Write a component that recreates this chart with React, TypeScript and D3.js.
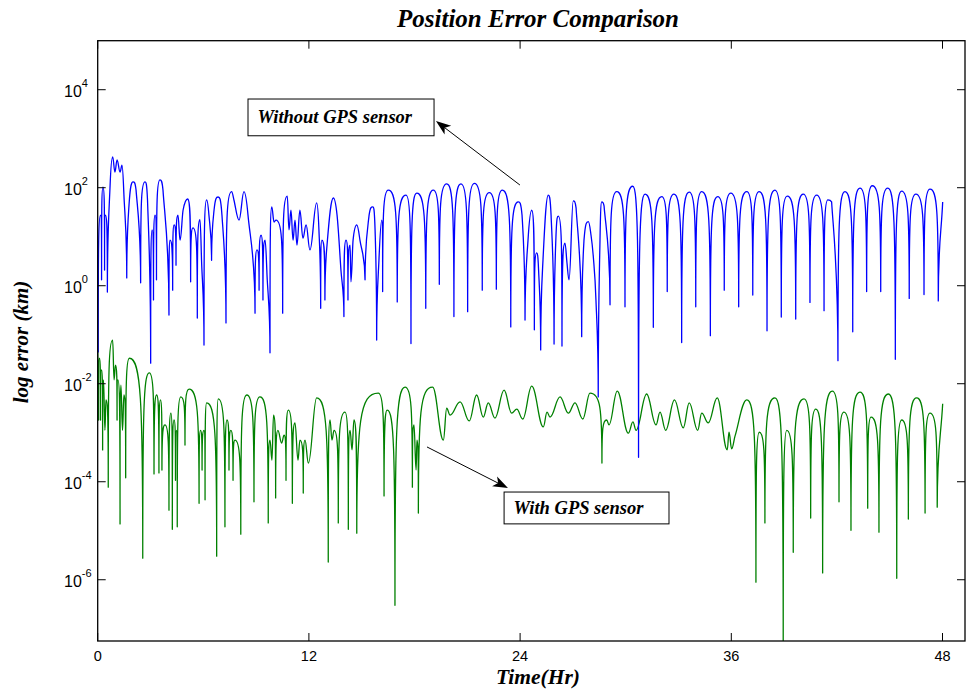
import React from "react";
import * as d3 from "d3";

const WIDTH = 967;
const HEIGHT = 689;

const TITLE = "Position Error Comparison";
const X_LABEL = "Time(Hr)";
const Y_LABEL = "log error (km)";

const TIME_TICKS = [0, 12, 24, 36, 48];
const LOG_TICKS = [-6, -4, -2, 0, 2, 4];

// [time (hr), log10 error (km)]
const withoutGps: [number, number][] = [
  [0, 0.63], [0.03, -1.35], [0.16, 1.44], [0.22, 0.12], [0.3, 2.01], [0.39, 0.32], [0.44, 1.44], [0.55, -0.13], [0.7, 2.01], [0.85, 2.63],
  [0.98, 2.32], [1.1, 2.57], [1.27, 2.32], [1.38, 2.46], [1.49, 1.85], [1.65, 0.16], [1.78, 1.65], [2.01, 2.12], [2.18, 1.95], [2.44, 0.06],
  [2.69, 2.12], [2.83, 1.75], [3.01, -1.58], [3.09, 1.14], [3.17, -0.29], [3.26, 1.44], [3.34, 0.12], [3.54, 2.16], [3.71, 1.95], [4.05, -0.6],
  [4.11, 0.93], [4.26, -0.09], [4.34, 1.24], [4.45, 0.42], [4.56, 1.44], [4.68, 0.93], [4.85, 1.54], [5.11, 1.77], [5.28, 0.08], [5.41, 1.18],
  [5.66, -0.66], [5.81, 1.35], [5.9, 0.52], [6.04, -1.21], [6.19, 1.75], [6.32, 1.44], [6.47, 0.52], [6.61, 1.54], [6.84, 1.81], [7.06, 1.44],
  [7.29, -0.76], [7.61, 1.92], [7.74, 1.75], [8.03, 1.34], [8.31, 1.92], [8.54, 1.44], [8.94, -0.56], [9.05, 0.73], [9.17, -0.09], [9.28, 1.03],
  [9.39, -0.29], [9.51, 0.93], [9.62, 0.22], [9.79, -1.37], [9.89, 1.61], [10.02, 1.3], [10.13, 1.34], [10.51, -0.56], [10.77, 1.83], [10.87, 1.14],
  [10.98, 1.54], [11.1, 0.93], [11.21, 1.34], [11.32, 0.83], [11.49, 1.54], [11.66, 0.97], [11.84, 1.24], [12.06, 0.73], [12.44, 1.69], [12.57, 1.14],
  [12.67, -0.46], [12.74, 0.93], [12.91, -0.29], [13.03, 0.83], [13.39, 1.79], [13.6, 1.44], [13.82, 0.32], [13.99, -0.63], [14.11, 0.93], [14.22, -0.29],
  [14.34, 0.83], [14.39, 0.08], [14.51, 0.93], [14.72, 1.24], [14.9, 0.93], [15.19, 0.12], [15.42, 1.44], [15.63, 1.61], [15.76, 1.14], [15.85, -1.11],
  [15.98, 0.52], [16.14, 1.34], [16.19, -0.12], [16.51, 1.95], [17.02, -0.33], [17.52, 1.85], [17.8, -1.18], [18.13, 1.89], [18.64, -0.46], [19.07, 1.95],
  [19.41, 0.03], [19.83, 2.08], [20.24, -0.63], [20.64, 2.08], [21.02, -0.53], [21.4, 2.09], [21.85, -0.09], [22.25, 1.9], [22.65, -0.07], [22.99, 1.95],
  [23.47, -0.84], [23.9, 1.71], [24.11, 1.44], [24.28, -0.7], [24.45, 0.93], [24.66, 1.54], [24.81, -0.9], [24.94, 0.67], [25.05, 0.32], [25.17, -1.31],
  [25.3, 0.52], [25.6, 1.85], [25.76, 1.44], [25.93, -1.19], [26.04, 1.03], [26.17, 1.42], [26.38, -1.23], [26.55, 0.87], [26.66, 0.48], [26.78, 0.12],
  [27.02, 1.73], [27.18, 1.59], [27.5, -1.04], [27.63, 0.93], [27.88, 1.31], [28.03, 1.03], [28.16, 0.59], [28.31, -0.29], [28.44, -2.27], [28.54, 0.93],
  [28.64, 1.71], [28.77, 1.63], [29.11, -0.39], [29.49, 1.92], [29.96, -0.43], [30.4, 2.03], [30.73, -3.5], [31.1, 1.87], [31.57, -0.85], [32.05, 1.82],
  [32.36, -0.12], [32.74, 1.87], [33.18, -1.16], [33.61, 1.91], [33.98, -0.43], [34.32, 1.92], [34.81, -1.02], [35.23, 1.82], [35.6, -0.09], [35.97, 1.89],
  [36.42, -0.43], [36.88, 1.92], [37.22, -0.19], [37.59, 1.92], [38.03, -0.92], [38.48, 1.95], [38.84, -0.64], [39.18, 1.83], [39.66, -0.68], [40.09, 1.87],
  [40.47, -0.34], [40.85, 1.85], [41.27, -0.51], [41.49, 1.75], [41.7, 1.71], [42.06, -1.53], [42.46, 1.92], [42.9, -0.94], [43.31, 1.99], [43.69, -0.12],
  [44.01, 2.04], [44.49, -0.12], [44.89, 1.99], [45.32, -1.5], [45.68, 1.93], [46.11, -0.26], [46.49, 1.87], [46.95, -0.18], [47.29, 1.97], [47.76, -0.31],
  [48.01, 1.71],
];

const withGps: [number, number][] = [
  [0, -1.31], [0.05, -2.74], [0.1, -1.48], [0.16, -2.74], [0.22, -1.72], [0.28, -3.35], [0.33, -1.92], [0.41, -2.95], [0.47, -2.33], [0.6, -4.11],
  [0.85, -1.11], [0.93, -1.92], [1.01, -1.62], [1.1, -2.74], [1.15, -1.92], [1.27, -4.86], [1.32, -2.03], [1.41, -2.95], [1.49, -2.23], [1.59, -3.92],
  [1.8, -1.48], [2.56, -5.56], [2.93, -1.78], [3.2, -3.84], [3.35, -2.23], [3.48, -3.82], [3.57, -2.33], [3.65, -3.76], [3.82, -2.84], [4.05, -4.58],
  [4.16, -2.6], [4.24, -4.97], [4.34, -2.74], [4.42, -3.97], [4.48, -2.95], [4.52, -4.92], [4.72, -2.27], [4.96, -3.25], [5.19, -2.11], [5.76, -4.44],
  [5.84, -2.95], [5.93, -3.76], [6.04, -2.95], [6.1, -4.37], [6.19, -2.39], [6.76, -5.52], [6.85, -2.31], [7.23, -4.92], [7.35, -2.74], [7.46, -3.76],
  [7.57, -2.95], [7.69, -3.97], [7.8, -3.15], [8.13, -5.07], [8.47, -2.23], [8.88, -4.41], [9.22, -2.27], [9.69, -4.84], [9.79, -3.15], [9.9, -3.56],
  [9.99, -2.64], [10.11, -4.33], [10.24, -2.95], [10.45, -3.21], [10.59, -3.05], [10.7, -3.97], [10.83, -2.54], [11.06, -4.44], [11.21, -2.8], [11.38, -3.56],
  [11.49, -3.15], [11.68, -4.23], [11.78, -3.15], [11.97, -3.62], [12.44, -2.29], [13.1, -5.64], [13.2, -2.74], [13.31, -3.15], [13.43, -2.95], [13.67, -4.84],
  [14.05, -2.58], [14.24, -4.97], [14.34, -2.95], [14.45, -3.35], [14.56, -2.74], [14.72, -5.05], [15.94, -2.19], [16.27, -4.29], [16.45, -2.54], [16.89, -6.52],
  [17.46, -2.07], [17.88, -4.11], [17.97, -2.84], [18.09, -3.76], [18.14, -3.15], [18.22, -4.64], [19.03, -2.07], [19.64, -3.15], [19.83, -2.5], [20.02, -2.64],
  [20.59, -2.37], [21.11, -2.76], [21.53, -2.23], [21.91, -2.68], [22.19, -2.39], [22.57, -2.7], [23.09, -2.13], [23.52, -2.6], [23.81, -2.52], [24.15, -2.72],
  [24.66, -2.05], [25.32, -2.88], [25.53, -2.58], [25.7, -2.68], [26.27, -2.27], [26.74, -2.6], [27.12, -2.39], [27.56, -2.72], [27.97, -2.19], [28.65, -3.62],
  [28.92, -2.74], [29.05, -2.84], [29.52, -2.15], [30.15, -3.01], [30.41, -2.78], [30.59, -2.95], [31.19, -2.21], [31.72, -2.84], [31.95, -2.58], [32.27, -2.95],
  [32.77, -2.33], [33.27, -2.9], [33.61, -2.39], [34.09, -2.95], [34.32, -2.6], [34.69, -2.8], [35.2, -2.29], [35.77, -3.35], [35.87, -2.99], [36.02, -3.33],
  [36.21, -3.07], [36.88, -2.33], [37.4, -6.05], [37.59, -2.99], [37.91, -4.84], [38.48, -2.29], [38.95, -7.44], [39.15, -2.95], [39.52, -5.44], [40.13, -2.31],
  [40.51, -4.74], [40.8, -2.52], [41.19, -5.86], [41.74, -2.15], [42.12, -4.41], [42.4, -2.58], [42.8, -4.99], [43.31, -2.17], [43.75, -4.54], [43.94, -2.68],
  [44.39, -5.03], [44.92, -2.21], [45.4, -5.97], [45.68, -2.74], [46.06, -4.76], [46.53, -2.29], [47.01, -4.64], [47.29, -2.6], [47.7, -4.52], [48.01, -2.41],
];

// annotations: box [t0, t1, logTop, logBottom], arrow from -> to (time, log10)
const annotationTexts = ["Without GPS sensor", "With GPS sensor"];
const annotationBoxes = [
  [8.54, 19.11, 3.81, 3.06],
  [23.09, 32.46, -4.21, -4.86],
];
const annotationArrows = [
  [23.99, 2.055, 19.22, 3.36],
  [18.71, -3.29, 23.31, -4.13],
];

const FRAME = { left: 97.7, right: 965, top: 40.7, bottom: 641 };

const x = d3.scaleLinear().domain([0, 48]).range([97.7, 942.5]);
const y = d3.scaleLog().domain([Math.pow(10, -7.25), 1e5]).range([641, 40.7]);

type Kind = "max" | "cusp" | "round" | "mono";

function buildPath(series: [number, number][]): string {
  const pts = series.map(([t, e]) => ({ x: x(t), y: y(Math.pow(10, e)), e }));
  const n = pts.length;
  const kinds: Kind[] = pts.map((p, i) => {
    if (i === 0 || i === n - 1) return "mono";
    const a = pts[i - 1].e;
    const b = pts[i + 1].e;
    if (p.e > a && p.e > b) return "max";
    if (p.e < a && p.e < b) return Math.min(a - p.e, b - p.e) > 0.8 ? "cusp" : "round";
    return "mono";
  });
  const slope = (i: number) => {
    const a = pts[Math.max(0, i - 1)];
    const b = pts[Math.min(n - 1, i + 1)];
    return (b.y - a.y) / (b.x - a.x || 1);
  };
  const clamp = (v: number, a: number, b: number) => Math.max(Math.min(a, b), Math.min(Math.max(a, b), v));
  const p = d3.path();
  p.moveTo(pts[0].x, pts[0].y);
  for (let i = 0; i < n - 1; i++) {
    const a = pts[i];
    const b = pts[i + 1];
    const ka = kinds[i];
    const kb = kinds[i + 1];
    const dx = b.x - a.x;
    const dy = b.y - a.y;
    let c1x: number, c1y: number, c2x: number, c2y: number;
    if (ka === "max" || ka === "round") {
      const f = kb === "cusp" ? 0.85 : 0.4;
      c1x = a.x + f * dx;
      c1y = a.y;
    } else if (ka === "cusp") {
      const f = kb === "mono" ? 0.6 : 0.8;
      c1x = a.x;
      c1y = a.y + f * dy;
    } else {
      const m = slope(i);
      c1x = a.x + dx / 3;
      c1y = clamp(a.y + (m * dx) / 3, a.y, b.y);
    }
    if (kb === "max" || kb === "round") {
      const f = ka === "cusp" ? 0.85 : 0.4;
      c2x = b.x - f * dx;
      c2y = b.y;
    } else if (kb === "cusp") {
      const f = ka === "mono" ? 0.6 : 0.8;
      c2x = b.x;
      c2y = b.y - f * dy;
    } else {
      const m = slope(i + 1);
      c2x = b.x - dx / 3;
      c2y = clamp(b.y - (m * dx) / 3, a.y, b.y);
    }
    p.bezierCurveTo(c1x, c1y, c2x, c2y, b.x, b.y);
  }
  return p.toString();
}

const SANS = "'Liberation Sans', Arial, Helvetica, sans-serif";
const SERIF = "'Liberation Serif', 'Times New Roman', Times, serif";

function Arrow({ x1, y1, x2, y2 }: { x1: number; y1: number; x2: number; y2: number }) {
  const len = Math.hypot(x2 - x1, y2 - y1);
  const ux = (x2 - x1) / len;
  const uy = (y2 - y1) / len;
  const nx = -uy;
  const ny = ux;
  const L = 15;
  const Wd = 5.5;
  const notch = 4;
  const head = [
    [x2, y2],
    [x2 - ux * L + nx * Wd, y2 - uy * L + ny * Wd],
    [x2 - ux * (L - notch), y2 - uy * (L - notch)],
    [x2 - ux * L - nx * Wd, y2 - uy * L - ny * Wd],
  ];
  return (
    <g>
      <line x1={x1} y1={y1} x2={x2 - ux * (L - notch)} y2={y2 - uy * (L - notch)} stroke="#000" strokeWidth={1} />
      <polygon points={head.map((q) => q.join(",")).join(" ")} fill="#000" />
    </g>
  );
}

export default function App() {
  const bluePath = buildPath(withoutGps);
  const greenPath = buildPath(withGps);
  const tickLen = 8;
  return (
    <svg
      width={WIDTH}
      height={HEIGHT}
      style={{ position: "absolute", left: 0, top: 0, background: "#fff" }}
      xmlns="http://www.w3.org/2000/svg"
    >
      <rect x={0} y={0} width={WIDTH} height={HEIGHT} fill="#fff" />
      <defs>
        <clipPath id="plotClip">
          <rect x={FRAME.left} y={FRAME.top} width={FRAME.right - FRAME.left} height={FRAME.bottom - FRAME.top} />
        </clipPath>
      </defs>

      <g clipPath="url(#plotClip)" fill="none" strokeLinejoin="round">
        <path d={greenPath} stroke="#008000" strokeWidth={1.3} />
        <path d={bluePath} stroke="#0000ff" strokeWidth={1.3} />
      </g>

      {/* frame */}
      <rect
        x={FRAME.left}
        y={FRAME.top}
        width={FRAME.right - FRAME.left}
        height={FRAME.bottom - FRAME.top}
        fill="none"
        stroke="#000"
        strokeWidth={1.3}
      />

      {/* x ticks */}
      {TIME_TICKS.map((t) => (
        <g key={"xt" + t}>
          <line x1={x(t)} x2={x(t)} y1={FRAME.bottom} y2={FRAME.bottom - tickLen} stroke="#000" />
          <line x1={x(t)} x2={x(t)} y1={FRAME.top} y2={FRAME.top + tickLen} stroke="#000" />
          <text x={x(t)} y={661} textAnchor="middle" fontFamily={SANS} fontSize={14.5} fill="#000">
            {t}
          </text>
        </g>
      ))}

      {/* y ticks */}
      {LOG_TICKS.map((e) => {
        const yy = y(Math.pow(10, e));
        return (
          <g key={"yt" + e}>
            <line x1={FRAME.left} x2={FRAME.left + tickLen} y1={yy} y2={yy} stroke="#000" />
            <line x1={FRAME.right} x2={FRAME.right - tickLen} y1={yy} y2={yy} stroke="#000" />
            <text x={64} y={yy + 7} fontFamily={SANS} fontSize={16} fill="#000">
              <tspan>10</tspan>
              <tspan dy={-10} fontSize={11}>
                {e < 0 ? "-" + Math.abs(e) : String(e)}
              </tspan>
            </text>
          </g>
        );
      })}

      {/* title and labels */}
      <text x={538} y={27} textAnchor="middle" fontFamily={SERIF} fontWeight="bold" fontStyle="italic" fontSize={25} fill="#000">
        {TITLE}
      </text>
      <text x={538} y={684} textAnchor="middle" fontFamily={SERIF} fontWeight="bold" fontStyle="italic" fontSize={21.5} fill="#000">
        {X_LABEL}
      </text>
      <text
        transform={`translate(28, 342) rotate(-90)`}
        textAnchor="middle"
        fontFamily={SERIF}
        fontWeight="bold"
        fontStyle="italic"
        fontSize={21}
        fill="#000"
      >
        {Y_LABEL}
      </text>

      {/* annotations */}
      {annotationTexts.map((txt, i) => {
        const [t0, t1, lt, lb] = annotationBoxes[i];
        const bx0 = x(t0);
        const bx1 = x(t1);
        const by0 = y(Math.pow(10, lt));
        const by1 = y(Math.pow(10, lb));
        const [ft, fl, tt, tl] = annotationArrows[i];
        return (
          <g key={"ann" + i}>
            <Arrow x1={x(ft)} y1={y(Math.pow(10, fl))} x2={x(tt)} y2={y(Math.pow(10, tl))} />
            <rect x={bx0} y={by0} width={bx1 - bx0} height={by1 - by0} fill="#fff" stroke="#000" strokeWidth={1} />
            <text
              x={bx0 + 9.5}
              y={(by0 + by1) / 2 + 6}
              fontFamily={SERIF}
              fontWeight="bold"
              fontStyle="italic"
              fontSize={18.5}
              fill="#000"
            >
              {txt}
            </text>
          </g>
        );
      })}
    </svg>
  );
}
